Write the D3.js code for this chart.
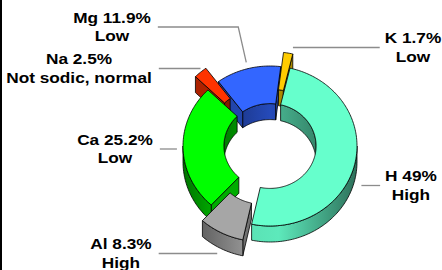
<!DOCTYPE html>
<html>
<head>
<meta charset="utf-8">
<script src="https://cdn.jsdelivr.net/npm/d3@7"></script>
<style>
  body { margin: 0; background: #fff; }
  svg { display: block; }
  .lbl { font-family: "Liberation Sans", Arial, sans-serif; font-weight: bold; font-size: 15px; fill: #000; }
</style>
</head>
<body>
<div id="chart"></div>
<script>
// data
var nutrients = ["H", "Al", "Ca", "Na", "Mg", "K"];
var shares = [49, 8.3, 25.2, 2.5, 11.9, 1.7];
var ratings = ["High", "High", "Low", "Not sodic, normal", "Low", "Low"];
var pulled = [0, 0.22, 0, 0.22, 0, 0.18];   // exploded slices
var colours = ["#66FFCC", "#A6A6A6", "#00FF00", "#FF3300", "#3366FF", "#FFCC00"];

// label layout (centre x, first baseline)
var labelX = [411, 121, 115, 79, 112, 413];
var labelY = [181, 249, 144.5, 64, 22.5, 43];
var leaderR = [1.03, 1.1, 1.07, 1.0, 1.08, 1.05];

var W = 442, H = 270;
var cx = 270, cy = 146, RX = 87, RY = 80, hole = 0.53, depth = 16;
var stretch = 1.15;

var svg = d3.select("#chart").append("svg")
  .attr("width", W).attr("height", H);

svg.append("rect").attr("x", 0).attr("y", 0).attr("width", 2).attr("height", H).attr("fill", "#000");

var xs = d3.scaleLinear().domain([-1, 1]).range([cx - RX, cx + RX]);
var ys = d3.scaleLinear().domain([-1, 1]).range([cy + RY, cy - RY]);

var a0 = 13.3 * Math.PI / 180;
var pie = d3.pie().sort(null).startAngle(a0).endAngle(a0 + 2 * Math.PI);
var slices = pie(shares);
slices.forEach(function(d, i) {
  d.i = i;
  d.mid = (d.startAngle + d.endAngle) / 2;
  d.ox = pulled[i] * Math.sin(d.mid);
  d.oy = pulled[i] * Math.cos(d.mid);
});

function pt(d, a, r, z) {
  return [xs(r * Math.sin(a) + d.ox), ys(r * Math.cos(a) + d.oy) + depth * z];
}
function arcPts(d, s, e, r, z) {
  var n = Math.max(2, Math.ceil(Math.abs(e - s) / 0.02) + 1), out = [];
  for (var k = 0; k < n; k++) out.push(pt(d, s + (e - s) * k / (n - 1), r, z));
  return out;
}
var line = d3.line();
function shape(pts) { return line(pts) + "Z"; }
function clip(s, e, lo, hi) {
  var a = Math.max(s, lo), b = Math.min(e, hi);
  return a < b ? [a, b] : null;
}

// gradients for the walls
var defs = svg.append("defs");
colours.forEach(function(c, i) {
  var g = defs.append("linearGradient").attr("id", "wall" + i)
    .attr("gradientUnits", "userSpaceOnUse")
    .attr("x1", cx - RX).attr("x2", cx + RX).attr("y1", 0).attr("y2", 0);
  [[0, 2.2], [0.35, 0.35], [0.55, 0.25], [1, 2.3]].forEach(function(s) {
    g.append("stop").attr("offset", s[0]).attr("stop-color", d3.color(c).darker(s[1]));
  });
  var gi = defs.append("linearGradient").attr("id", "inner" + i)
    .attr("gradientUnits", "userSpaceOnUse")
    .attr("x1", cx - RX * hole).attr("x2", cx + RX * hole).attr("y1", 0).attr("y2", 0);
  [[0, 2.0], [0.5, 0.9], [1, 1.8]].forEach(function(s) {
    gi.append("stop").attr("offset", s[0]).attr("stop-color", d3.color(c).darker(s[1]));
  });
});

// back to front, pulled-out slices after their neighbours
var order = slices.slice().sort(function(a, b) {
  return (Math.cos(b.mid) - pulled[b.i]) - (Math.cos(a.mid) - pulled[a.i]);
});

var pieG = svg.append("g")
  .attr("stroke", "#000").attr("stroke-width", 0.8).attr("stroke-linejoin", "round");

order.forEach(function(d) {
  var g = pieG.append("g");
  var s = d.startAngle, e = d.endAngle, c = colours[d.i];

  // inner wall (far side of the hole)
  [[-Math.PI / 2, Math.PI / 2], [1.5 * Math.PI, 2.5 * Math.PI]].forEach(function(w) {
    var iv = clip(s, e, w[0], w[1]);
    if (!iv) return;
    var p = arcPts(d, iv[0], iv[1], hole, 0).concat(arcPts(d, iv[1], iv[0], hole, 1));
    g.append("path").attr("d", shape(p)).attr("fill", "url(#inner" + d.i + ")");
  });

  // cut faces
  if (Math.sin(s) < 0) {
    g.append("path").attr("d", shape([pt(d, s, hole, 0), pt(d, s, 1, 0), pt(d, s, 1, 1), pt(d, s, hole, 1)]))
      .attr("fill", d3.color(c).darker(1.1));
  }
  if (Math.sin(e) > 0) {
    g.append("path").attr("d", shape([pt(d, e, hole, 0), pt(d, e, 1, 0), pt(d, e, 1, 1), pt(d, e, hole, 1)]))
      .attr("fill", d3.color(c).darker(1.1));
  }

  // outer wall (near side)
  var ov = clip(s, e, Math.PI / 2, 1.5 * Math.PI);
  if (ov) {
    var p = arcPts(d, ov[0], ov[1], 1, 0).concat(arcPts(d, ov[1], ov[0], 1, 1));
    g.append("path").attr("d", shape(p)).attr("fill", "url(#wall" + d.i + ")");
  }

  // top face
  var top = arcPts(d, s, e, 1, 0).concat(arcPts(d, e, s, hole, 0));
  g.append("path").attr("d", shape(top)).attr("fill", c);
});

// labels and leader lines
var labG = svg.append("g");
slices.forEach(function(d, i) {
  var lx = labelX[i], ly = labelY[i];
  var g = labG.append("g")
    .attr("transform", "translate(" + lx + "," + ly + ") scale(" + stretch + ",1)");
  var t1 = g.append("text").attr("class", "lbl").attr("text-anchor", "middle")
    .text(nutrients[i] + " " + d3.format("")(shares[i]) + "%");
  var t2 = g.append("text").attr("class", "lbl").attr("text-anchor", "middle").attr("y", 18.7)
    .text(ratings[i]);
  var half = Math.max(t1.node().getComputedTextLength(), t2.node().getComputedTextLength()) * stretch / 2;

  var anchor = pt(d, d.mid, leaderR[i], 0);
  var yl = ly + 4.5;
  var pts;
  if (lx > cx) {
    // label on the right
    pts = [[anchor[0] + 4, yl], [lx - half - 5, yl]];
  } else {
    pts = [[lx + half + 7, yl]];
    if (Math.abs(anchor[1] - yl) > 25) {
      pts.push([anchor[0] - 8, yl], anchor);
    } else {
      pts.push([anchor[0], yl]);
    }
  }
  labG.append("path").attr("d", d3.line()(pts))
    .attr("fill", "none").attr("stroke", "#8c8c8c").attr("stroke-width", 1.3);
});
</script>
</body>
</html>
